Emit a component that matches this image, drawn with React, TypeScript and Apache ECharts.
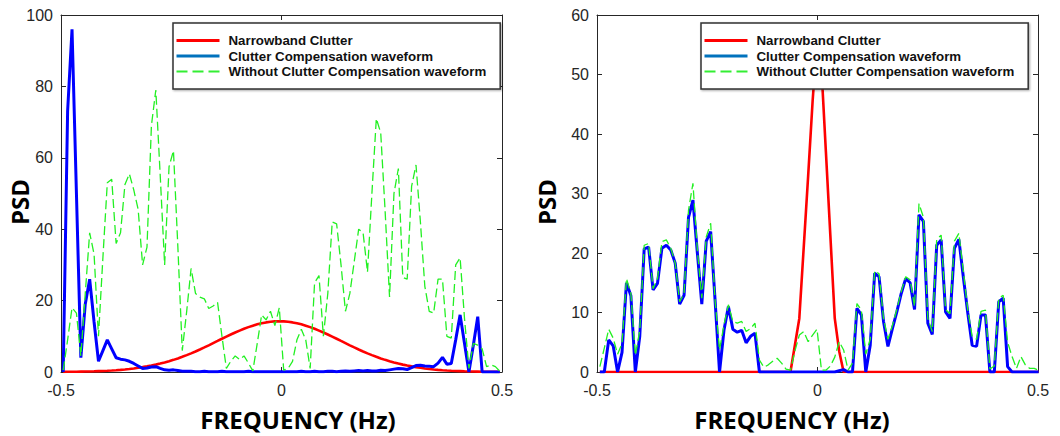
import React, { useEffect, useRef } from "react";
import * as echarts from "echarts";

// Frequency grids (Hz) for each panel
const N_POINTS = 100;
const FREQ_LEFT = Array.from({ length: N_POINTS }, (_, k) => -0.495 + 0.01 * k);
const FREQ_RIGHT = Array.from({ length: N_POINTS }, (_, k) => -0.4935 + 0.01005 * k);

const SERIES_NAMES = [
  "Narrowband Clutter",
  "Clutter Compensation waveform",
  "Without Clutter Compensation waveform",
];

const X_TICKS = [-0.5, 0, 0.5];

// Left panel values
const LEFT_RED = [
  0.04, 0.05, 0.06, 0.08, 0.1, 0.12, 0.15, 0.19, 0.24, 0.29,
  0.35, 0.42, 0.5, 0.6, 0.72, 0.85, 1.0, 1.17, 1.36, 1.57,
  1.8, 2.07, 2.36, 2.67, 3.02, 3.4, 3.8, 4.25, 4.72, 5.22,
  5.75, 6.3, 6.88, 7.47, 8.09, 8.7, 9.32, 9.91, 10.5, 11.06,
  11.6, 12.1, 12.57, 12.98, 13.35, 13.65, 13.89, 14.06, 14.17, 14.2,
  14.17, 14.06, 13.89, 13.65, 13.35, 12.98, 12.57, 12.1, 11.6, 11.06,
  10.5, 9.91, 9.32, 8.7, 8.09, 7.47, 6.88, 6.3, 5.75, 5.22,
  4.72, 4.25, 3.8, 3.4, 3.02, 2.67, 2.36, 2.07, 1.8, 1.57,
  1.36, 1.17, 1.0, 0.85, 0.72, 0.6, 0.5, 0.42, 0.35, 0.29,
  0.24, 0.19, 0.15, 0.12, 0.1, 0.08, 0.06, 0.05, 0.04, 0.03,
];

const LEFT_BLUE = [
  0, 73, 96, 50, 4, 19, 26, 14, 3, 6,
  9, 6.5, 4, 3.6, 3.4, 3, 2.4, 1.7, 1.0, 1.1,
  1.4, 1.5, 1.0, 0.6, 0.5, 0.6, 0.4, 0.2, 0.2, 0.2,
  0.1, 0.1, 0.2, 0.1, 0.1, 0.1, 0.2, 0.1, 0.1, 0.1,
  0.1, 0.1, 0.2, 0.1, 0.1, 0.1, 0.1, 0.1, 0.1, 0.1,
  0.1, 0.1, 0.1, 0.1, 0.2, 0.1, 0.1, 0.2, 0.1, 0.1,
  0.2, 0.2, 0.1, 0.2, 0.3, 0.2, 0.3, 0.4, 0.3, 0.4,
  0.3, 0.3, 0.5, 0.4, 0.6, 0.8, 1.0, 0.9, 0.7, 1.2,
  1.8, 1.9, 1.7, 1.6, 1.5, 2.5, 4.1, 2.2, 2.4, 9,
  16, 8, 0, 7.5, 15.5, 0, 0, 0, 0, 0,
];

const LEFT_GREEN = [
  0.5, 9, 18, 16.5, 4.5, 22, 39, 33, 10, 32,
  53, 54, 36, 39, 52.5, 55.5, 51, 45.5, 30, 35,
  69, 79, 55, 30, 57.5, 62, 35, 6, 17, 29,
  22, 21, 20.5, 17.8, 18.5, 19.5, 10, 1, 3, 4.5,
  3.5, 4.5, 2.5, 0.3, 8, 16, 14.6, 17, 13, 18,
  0.5, 1.0, 3, 9, 12, 9, 1, 25, 27, 10,
  22, 42, 41.5, 30, 17, 22, 31, 40, 39, 28,
  50, 71, 67, 45, 21, 50, 57, 26.5, 26, 52,
  58, 42, 24, 17, 16.5, 26, 26, 10, 9.5, 30,
  32, 15, 1, 8, 7.5, 6.5, 1.5, 2, 1.5, 0.2,
];

// Right panel values
const RIGHT_RED = [
  0, 0, 0, 0, 0, 0, 0, 0, 0, 0,
  0, 0, 0, 0, 0, 0, 0, 0, 0, 0,
  0, 0, 0, 0, 0, 0, 0, 0, 0, 0,
  0, 0, 0, 0, 0, 0, 0, 0, 0, 0,
  0, 0, 0, 0, 4.5, 9, 21, 33, 45.5, 56,
  51, 37, 23, 9, 3.5, 0, 0, 0, 0, 0,
  0, 0, 0, 0, 0, 0, 0, 0, 0, 0,
  0, 0, 0, 0, 0, 0, 0, 0, 0, 0,
  0, 0, 0, 0, 0, 0, 0, 0, 0, 0,
  0, 0, 0, 0, 0, 0, 0, 0, 0, 0,
];

const RIGHT_BLUE = [
  0, 0, 5.4, 4.4, 0, 3.3, 15, 12.8, 0, 6,
  20.7, 21, 13.8, 14.9, 20.8, 21.3, 20.5, 18.3, 11.4, 12.9,
  26, 28.9, 20, 11.4, 22, 23.6, 12, 0, 7, 11,
  7.2, 6.7, 7, 4.9, 6, 6.5, 0, 0, 0, 0,
  0, 0, 0, 0, 0, 0, 0, 0, 0, 0,
  0, 0, 0, 0, 0.2, 0.4, 0, 0, 10.7, 9.6,
  0, 4.5, 16.6, 16, 8.5, 4.3, 7.3, 10.1, 13.2, 15.7,
  15, 10.5, 26.4, 25.3, 8.2, 6.3, 21.3, 22.2, 10.1, 9,
  20.8, 22.3, 16, 10, 4.5, 4.3, 9.6, 9.6, 0, 0,
  11.8, 12.4, 0.9, 0, 0, 0, 0, 0, 0, 0,
];

const RIGHT_GREEN = [
  0.9, 4, 7.2, 5.7, 3, 4.8, 15.7, 13.2, 2.8, 7,
  21.3, 21.6, 14, 15.7, 21.9, 22.2, 20.8, 18.3, 11.8, 13.2,
  27.2, 31.7, 20.5, 12.4, 22.7, 25, 12, 3.7, 7.9, 11.3,
  8.5, 8.2, 8.5, 6.8, 7.3, 8.2, 2, 0.8, 1.2, 1.8,
  2.3, 1.5, 0.5, 0.3, 3.5, 6.2, 6.8, 5.1, 6.2, 7.2,
  0.3, 0.3, 1.0, 2.5, 5.1, 3.7, 0.3, 1.5, 11.5, 10.4,
  3, 5.5, 17, 16.5, 9, 5.5, 7.8, 10.5, 13.5, 16,
  15.5, 11, 28.3, 26, 9, 6.8, 22.3, 23, 10.5, 9.8,
  22, 23.3, 17, 10.5, 6, 5.5, 10.2, 10.4, 0.5, 1,
  12.4, 12.9, 5, 2.6, 0.6, 2.6, 1.2, 0.6, 0.6, 0.3,
];

const AXIS_COLOR = "#262626";
const TICK_FONT = "'Liberation Sans', Arial, sans-serif";
const TITLE_FONT = "bold 24px 'Open Sans', 'Liberation Sans', sans-serif";

function pairs(xs: number[], ys: number[]) {
  return xs.map((x, i) => [x, ys[i]]);
}

function makeAxes(gridIndex: number, yMax: number, yInterval: number) {
  const line = { show: true, lineStyle: { color: AXIS_COLOR, width: 1 } };
  const tick = { show: true, inside: true, length: 5, lineStyle: { color: AXIS_COLOR, width: 1 } };
  const xBottom = {
    gridIndex,
    type: "value",
    min: -0.5,
    max: 0.5,
    interval: 0.5,
    position: "bottom",
    axisLine: { ...line, onZero: false },
    axisTick: tick,
    splitLine: { show: false },
    axisLabel: {
      show: true,
      fontSize: 16,
      fontFamily: TICK_FONT,
      color: AXIS_COLOR,
      margin: 10,
      formatter: (v: number) => (X_TICKS.includes(v) ? String(v) : ""),
    },
  };
  const xTop = {
    gridIndex,
    type: "value",
    min: -0.5,
    max: 0.5,
    interval: 0.5,
    position: "top",
    axisLine: { ...line, onZero: false },
    axisTick: tick,
    splitLine: { show: false },
    axisLabel: { show: false },
  };
  const yLeft = {
    gridIndex,
    type: "value",
    min: 0,
    max: yMax,
    interval: yInterval,
    position: "left",
    axisLine: { ...line, onZero: false },
    axisTick: tick,
    splitLine: { show: false },
    axisLabel: {
      show: true,
      fontSize: 16,
      fontFamily: TICK_FONT,
      color: AXIS_COLOR,
      margin: 8,
    },
  };
  const yRight = {
    gridIndex,
    type: "value",
    min: 0,
    max: yMax,
    interval: yInterval,
    position: "right",
    axisLine: { ...line, onZero: false },
    axisTick: tick,
    splitLine: { show: false },
    axisLabel: { show: false },
  };
  return { x: [xBottom, xTop], y: [yLeft, yRight] };
}

function makeSeries(axisIndex: number, freq: number[], red: number[], blue: number[], green: number[]) {
  const common = {
    type: "line",
    xAxisIndex: axisIndex,
    yAxisIndex: axisIndex,
    symbol: "none",
    showSymbol: false,
    smooth: false,
    clip: true,
  };
  return [
    { ...common, name: SERIES_NAMES[0], data: pairs(freq, red), lineStyle: { color: "#ff0000", width: 2.6 }, itemStyle: { color: "#ff0000" }, z: 2 },
    { ...common, name: SERIES_NAMES[1], data: pairs(freq, blue), lineStyle: { color: "#0000ff", width: 3 }, itemStyle: { color: "#0072BD" }, z: 3 },
    { ...common, name: SERIES_NAMES[2], data: pairs(freq, green), lineStyle: { color: "#22f022", width: 1.3, type: [9, 4] }, itemStyle: { color: "#22f022" }, z: 4 },
  ];
}

const HIDDEN_SYMBOL = { opacity: 0, color: "rgba(0,0,0,0)", borderWidth: 0 };

function makeLegend(left: number) {
  return {
    left,
    top: 23,
    orient: "vertical",
    itemWidth: 43,
    itemHeight: 15,
    itemGap: 2.5,
    padding: [11, 14, 11, 2],
    backgroundColor: "#ffffff",
    borderColor: "#303030",
    borderWidth: 1.5,
    shadowColor: "rgba(0,0,0,0.35)",
    shadowBlur: 2,
    shadowOffsetX: 1,
    shadowOffsetY: 1,
    selectedMode: false,
    z: 10,
    textStyle: {
      fontSize: 13.3,
      fontWeight: "bold",
      fontFamily: TICK_FONT,
      color: "#111111",
      padding: [0, 0, 0, 4],
    },
    data: [
      { name: SERIES_NAMES[0], itemStyle: HIDDEN_SYMBOL, lineStyle: { color: "#ff0000", width: 3 } },
      { name: SERIES_NAMES[1], itemStyle: HIDDEN_SYMBOL, lineStyle: { color: "#0072BD", width: 3 } },
      { name: SERIES_NAMES[2], itemStyle: HIDDEN_SYMBOL, lineStyle: { color: "#33ee33", width: 2, type: [11, 5] } },
    ],
  };
}

export default function App() {
  const ref = useRef<HTMLDivElement>(null);

  useEffect(() => {
    if (!ref.current) return;
    const chart = echarts.init(ref.current, undefined, { renderer: "svg" });
    const a0 = makeAxes(0, 100, 20);
    const a1 = makeAxes(1, 60, 10);

    const option: any = {
      animation: false,
      backgroundColor: "#ffffff",
      grid: [
        { left: 61, top: 15, width: 441, height: 357 },
        { left: 597, top: 15, width: 441, height: 357 },
      ],
      xAxis: [a0.x[0], a0.x[1], a1.x[0], a1.x[1]],
      yAxis: [a0.y[0], a0.y[1], a1.y[0], a1.y[1]],
      legend: [makeLegend(173), makeLegend(701)],
      series: [
        ...makeSeries(0, FREQ_LEFT, LEFT_RED, LEFT_BLUE, LEFT_GREEN),
        ...makeSeries(2, FREQ_RIGHT, RIGHT_RED, RIGHT_BLUE, RIGHT_GREEN),
      ],
      graphic: [
        {
          type: "text",
          x: 298,
          y: 419,
          style: { text: "FREQUENCY (Hz)", font: TITLE_FONT, fill: "#000", align: "center", verticalAlign: "middle" },
        },
        {
          type: "text",
          x: 792,
          y: 419,
          style: { text: "FREQUENCY (Hz)", font: TITLE_FONT, fill: "#000", align: "center", verticalAlign: "middle" },
        },
        {
          type: "text",
          x: 19,
          y: 202,
          rotation: Math.PI / 2,
          style: { text: "PSD", font: TITLE_FONT, fill: "#000", align: "center", verticalAlign: "middle" },
        },
        {
          type: "text",
          x: 546,
          y: 202,
          rotation: Math.PI / 2,
          style: { text: "PSD", font: TITLE_FONT, fill: "#000", align: "center", verticalAlign: "middle" },
        },
      ],
    };
    chart.setOption(option);
    return () => chart.dispose();
  }, []);

  return (
    <div
      ref={ref}
      style={{ position: "absolute", left: 0, top: 0, width: 1060, height: 436, background: "#fff" }}
    />
  );
}
